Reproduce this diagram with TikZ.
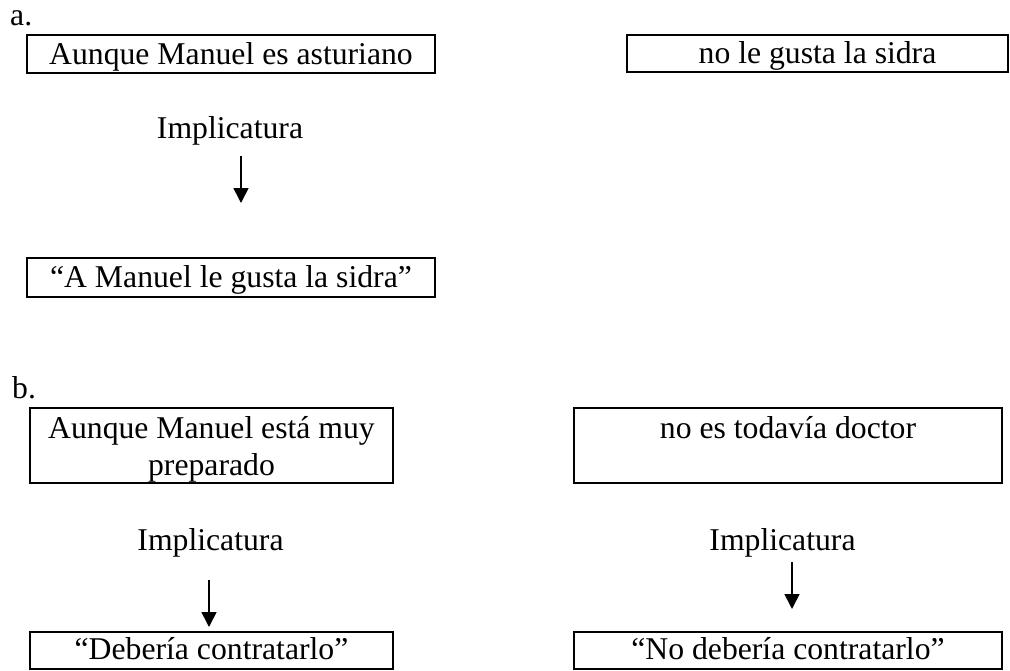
\documentclass[tikz,border=0pt]{standalone}
\usepackage{fontspec}
\setmainfont{Liberation Serif}
\usetikzlibrary{arrows.meta}
\begin{document}
\begin{tikzpicture}[x=1pt,y=-1pt,
  every node/.style={font=\fontsize{31.7}{37}\selectfont, inner sep=0pt},
  txtbox/.style={draw, line width=2pt, rectangle, inner sep=0pt},
  onehigh/.style={text height=20pt, text depth=0pt},
  onelow/.style={text height=17pt, text depth=0pt},
  twoline/.style={text height=0pt, text depth=15pt},
  implabel/.style={anchor=base},
  itemlabel/.style={anchor=base west},
  implarrow/.style={line width=1.6pt, -{Triangle[length=15pt,width=15pt]}}
]
\useasboundingbox (0,0) rectangle (1010,670);

% ---- a. ----
\node[itemlabel] (la) at (10,25) {a.};
\node[txtbox, onehigh, minimum width=408pt, minimum height=38pt] (a1) at (231,54) {Aunque Manuel es asturiano};
\node[txtbox, onehigh, minimum width=381pt, minimum height=37pt] (a2) at (817.5,53.5) {no le gusta la sidra};
\node[implabel] (ia) at (230,138) {Implicatura};
\coordinate (as) at (241,156);
\coordinate (ae) at (241,203);
\draw[implarrow] (as) -- (ae);
\node[txtbox, onehigh, minimum width=408pt, minimum height=39pt] (a3) at (231,277.5) {“A Manuel le gusta la sidra”};

% ---- b. ----
\node[itemlabel] (lb) at (12,398) {b.};
\node[txtbox, twoline, minimum width=363pt, minimum height=75pt] (b1) at (211.5,445.5)
  {\begin{tabular}[t]{@{}c@{}}Aunque Manuel está muy\\preparado\end{tabular}};
\node[txtbox, twoline, minimum width=428pt, minimum height=75pt] (b2) at (788,445.5) {no es todavía doctor};
\node[implabel] (ib1) at (210.5,550) {Implicatura};
\node[implabel] (ib2) at (782.5,550) {Implicatura};
\coordinate (b1s) at (209,580);
\coordinate (b1e) at (209,627);
\coordinate (b2s) at (792,562);
\coordinate (b2e) at (792,609);
\draw[implarrow] (b1s) -- (b1e);
\draw[implarrow] (b2s) -- (b2e);
\node[txtbox, onelow, minimum width=363pt, minimum height=37pt] (b3) at (211.5,650.5) {“Debería contratarlo”};
\node[txtbox, onelow, minimum width=428pt, minimum height=37pt] (b4) at (788,650.5) {“No debería contratarlo”};
\end{tikzpicture}
\end{document}
